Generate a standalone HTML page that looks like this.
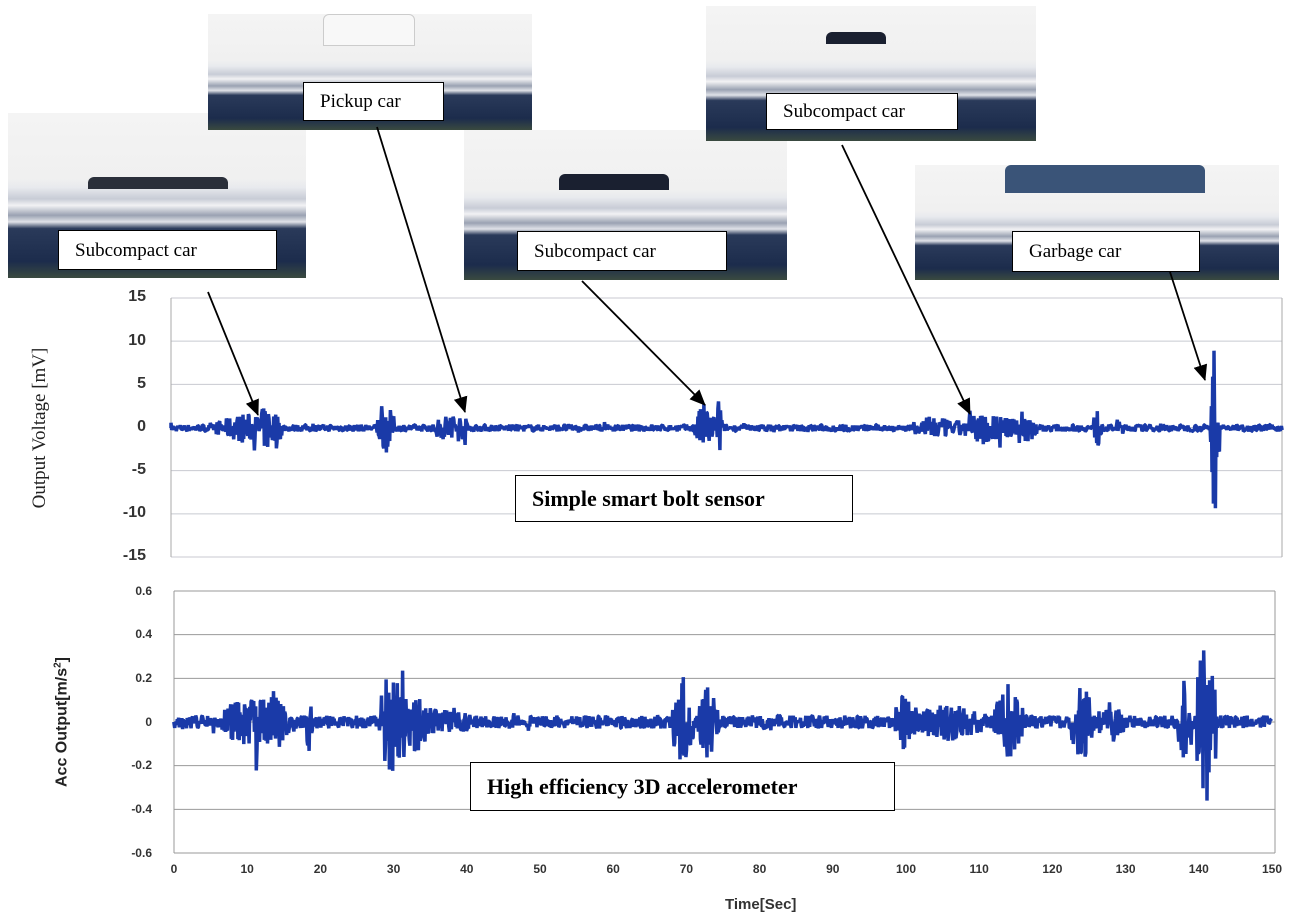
<!DOCTYPE html>
<html><head><meta charset="utf-8"><style>
body{margin:0;width:1316px;height:915px;background:#fff;position:relative;overflow:hidden;font-family:"Liberation Serif",serif}
.ph{position:absolute;overflow:hidden;background:linear-gradient(#f4f4f4 0%,#f0f0f0 40%,#e8eaee 45%,#c8ccd6 52%,#f2f2f4 56%,#9aa2b2 62%,#e0e2e8 66%,#2a3a5a 70%,#1c2c4c 90%,#3a4a40 100%)}
.lb{position:absolute;background:#fff;border:1.5px solid #000;font-size:19px;line-height:1;padding:0;display:flex;align-items:center;box-sizing:border-box;padding-left:16px}
.car{position:absolute;background:#1a2030;border-radius:6px 6px 0 0}
.ax{position:absolute;font-family:"Liberation Sans",sans-serif;font-weight:bold;color:#333;text-align:right}
</style></head><body>
<div class="ph" style="left:8px;top:113px;width:298px;height:165px"><div class="car" style="left:80px;top:64px;width:140px;height:12px;background:#2a2f3a"></div></div>
<div class="ph" style="left:208px;top:14px;width:324px;height:116px"><div class="car" style="left:115px;top:0;width:90px;height:30px;background:#f8f8f8;border:1px solid #ccc"></div></div>
<div class="ph" style="left:464px;top:130px;width:323px;height:150px"><div class="car" style="left:95px;top:44px;width:110px;height:16px"></div></div>
<div class="ph" style="left:706px;top:6px;width:330px;height:135px"><div class="car" style="left:120px;top:26px;width:60px;height:12px"></div></div>
<div class="ph" style="left:915px;top:165px;width:364px;height:115px"><div class="car" style="left:90px;top:0;width:200px;height:28px;background:#3a5478"></div></div>
<div class="lb" style="left:58px;top:230px;width:219px;height:40px">Subcompact car</div>
<div class="lb" style="left:303px;top:82px;width:141px;height:39px">Pickup car</div>
<div class="lb" style="left:517px;top:231px;width:210px;height:40px">Subcompact car</div>
<div class="lb" style="left:766px;top:93px;width:192px;height:37px">Subcompact car</div>
<div class="lb" style="left:1012px;top:231px;width:188px;height:41px">Garbage car</div>

<svg width="1316" height="915" style="position:absolute;left:0;top:0" id="sv">
<defs><marker id="ar" markerWidth="16" markerHeight="14" refX="15" refY="7" orient="auto" markerUnits="userSpaceOnUse" viewBox="0 0 16 14"><path d="M0,0L16,7L0,14z"/></marker></defs>
<g stroke="#c8cad0" stroke-width="1" id="grid"></g>
<g id="sig" fill="none" stroke="#1a3aa8" stroke-width="3.5" stroke-linejoin="bevel"></g>
<g stroke="#000" stroke-width="1.8">
<line x1="208" y1="292" x2="258" y2="415" marker-end="url(#ar)"/>
<line x1="377" y1="127" x2="465" y2="412" marker-end="url(#ar)"/>
<line x1="582" y1="281" x2="705" y2="405" marker-end="url(#ar)"/>
<line x1="842" y1="145" x2="970" y2="414" marker-end="url(#ar)"/>
<line x1="1170" y1="272" x2="1205" y2="380" marker-end="url(#ar)"/>
</g>
</svg>
<div class="lb" style="left:515px;top:475px;width:338px;height:47px;font-weight:bold;font-size:22px">Simple smart bolt sensor</div>
<div class="lb" style="left:470px;top:762px;width:425px;height:49px;font-weight:bold;font-size:22px">High efficiency 3D accelerometer</div>
<div style="position:absolute;left:40px;top:428px;transform:translate(-50%,-50%) rotate(-90deg);font-size:19px;white-space:nowrap;color:#222">Output Voltage [mV]</div>
<div style="position:absolute;left:62px;top:722px;transform:translate(-50%,-50%) rotate(-90deg);font-size:16px;font-family:'Liberation Sans',sans-serif;font-weight:bold;white-space:nowrap;color:#222">Acc Output[m/s<sup style="font-size:10px">2</sup>]</div>
<div style="position:absolute;left:725px;top:896px;font-family:'Liberation Sans',sans-serif;font-weight:bold;font-size:15px;color:#333">Time[Sec]</div>
<div id="labels"></div>
<script>
var NS="http://www.w3.org/2000/svg",g=document.getElementById('grid'),s=document.getElementById('sig'),L=document.getElementById('labels');
function ln(x1,y1,x2,y2,c){var l=document.createElementNS(NS,'line');l.setAttribute('x1',x1);l.setAttribute('y1',y1);l.setAttribute('x2',x2);l.setAttribute('y2',y2);if(c)l.setAttribute('stroke',c);g.appendChild(l);}
function lab(x,y,t,fs,al){var d=document.createElement('div');d.className='ax';d.style.cssText='left:'+(x-60)+'px;top:'+(y-fs*0.6)+'px;width:60px;font-size:'+fs+'px;'+(al||'');d.textContent=t;L.appendChild(d);}
var v=[15,10,5,0,-5,-10,-15];
for(var i=0;i<7;i++){var y=298+i*43.17;ln(171,y,1282,y);lab(146,y,v[i],16);}
ln(171,298,171,557,'#aaa');ln(1282,298,1282,557,'#aaa');
var w=['0.6','0.4','0.2','0','-0.2','-0.4','-0.6'];
for(i=0;i<7;i++){y=591+i*43.67;ln(174,y,1275,y,'#999');lab(152,y,w[i],12);}
ln(174,591,174,853,'#999');ln(1275,591,1275,853,'#999');
for(i=0;i<=15;i++){var x=174+i*73.2,d=document.createElement('div');d.className='ax';d.style.cssText='left:'+(x-20)+'px;top:862px;width:40px;text-align:center;font-size:12px';d.textContent=i*10;L.appendChild(d);}
var seed=7;function r(){seed=(seed*16807)%2147483647;return seed/2147483647;}
function sig(x0,pxs,y0,scale,bursts,base){var p='M'+x0+','+y0;for(var t=0;t<150;t+=0.09){var a=base;bursts.forEach(function(b){var dd=Math.abs(t-b[0]);if(dd<b[2])a=Math.max(a,b[1]*(1-dd/b[2]*0.6));});var sp=(r()<0.015)?1.8:1;var v=(r()*2-1)*a*sp;p+=' L'+(x0+t*pxs).toFixed(1)+','+(y0-v*scale).toFixed(1);}var e=document.createElementNS(NS,'path');e.setAttribute('d',p);s.appendChild(e);}
sig(171,7.41,428,8.63,[[10,1.8,4],[13,2.8,2],[29,3,1.2],[38,2,2.5],[72,3,1.5],[74,5,0.4],[103,1.5,3],[110,2,4],[115,2.3,2],[125,2.5,0.6],[128,1.5,0.5],[140.8,12,0.4],[140.8,6,0.8]],0.4);
seed=11;
sig(174,7.32,722,218,[[11,0.13,5],[14,0.2,1],[18.5,0.2,0.4],[30,0.3,2],[33,0.15,3],[38,0.07,3],[69.5,0.22,1.5],[73,0.18,1.5],[100,0.15,1.5],[106,0.1,5],[114,0.18,2],[124,0.2,1.5],[128,0.1,2],[138,0.2,1],[141,0.45,1.3]],0.03);
</script>
</body></html>
